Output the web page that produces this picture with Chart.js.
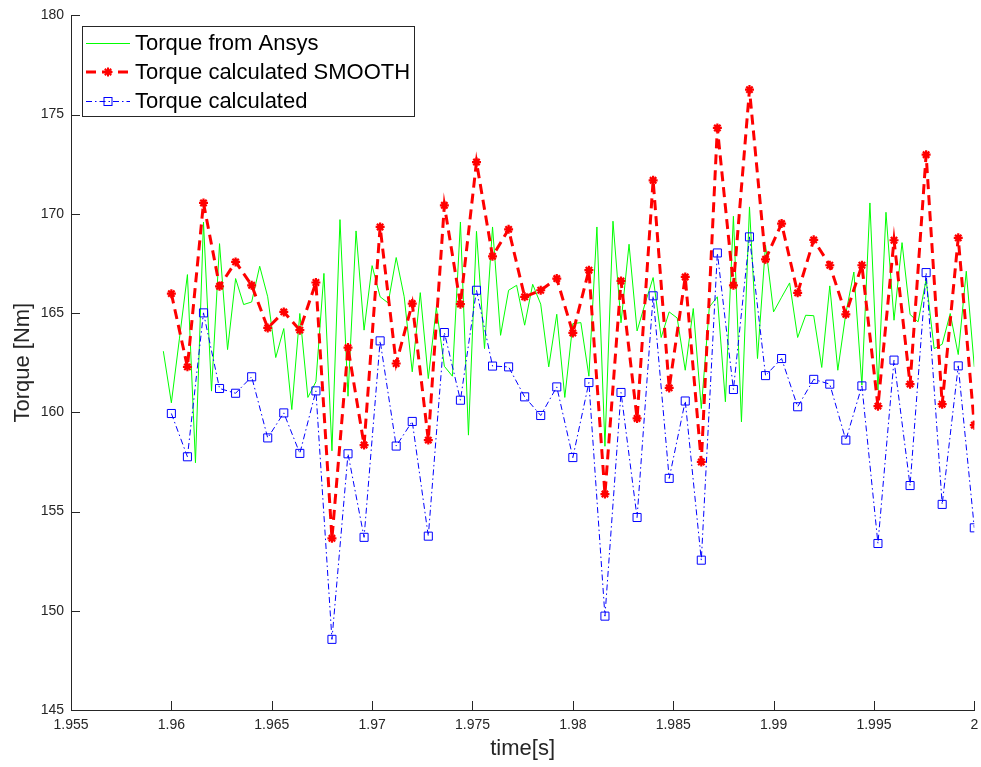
<!DOCTYPE html>
<html>
<head>
<meta charset="utf-8">
<script src="https://cdn.jsdelivr.net/npm/chart.js@4.4.1/dist/chart.umd.min.js"></script>
<style>
  html, body { margin: 0; padding: 0; background: #fff; }
  #wrap { width: 981px; height: 767px; }
</style>
</head>
<body>
<div id="wrap"><canvas id="torqueChart" width="981" height="767"></canvas></div>
<script>
// sampling of the two signals (Ansys is sampled twice as often)
const ansysStart = 1.9596, ansysStep = 0.0004;
const calcStart = 1.96, calcStep = 0.0008;

// Torque from Ansys [Nm]
const torqueAnsys = [
  163.08, 160.48, 163.7, 166.94, 157.46, 169.59, 161.07, 168.50, 163.16, 166.74,
  165.43, 165.56, 167.36, 165.82, 162.76, 164.22, 160.14, 164.98, 160.75, 161.54,
  167.00, 158.06, 169.71, 160.81, 169.14, 164.14, 167.39, 165.82, 165.51, 167.80,
  165.82, 162.04, 166.03, 161.70, 165.28, 162.32, 161.82, 169.59, 158.85, 169.12,
  163.21, 169.34, 163.88, 166.15, 166.40, 164.39, 166.45, 165.45, 162.29, 164.94,
  160.75, 164.47, 164.52, 161.82, 169.34, 158.29, 169.63, 164.51, 168.47, 164.10,
  165.48, 166.79, 163.77, 165.06, 164.75, 162.12, 165.23, 160.19, 165.31, 165.82,
  160.53, 169.88, 159.52, 170.35, 162.71, 168.42, 165.06, 165.8, 166.52, 163.77,
  164.89, 164.87, 162.26, 166.37, 162.12, 164.98, 167.07, 161.37, 170.55, 161.12,
  170.08, 164.64, 168.55, 164.93, 164.56, 166.69, 163.21, 163.43, 164.98, 162.91,
  167.11, 162.29
];

// Torque calculated SMOOTH [Nm]
const torqueSmooth = [
  165.98, 162.29, 170.55, 166.35, 167.58, 166.40, 164.25, 165.06, 164.14, 166.54,
  153.65, 163.26, 158.35, 169.34, 162.46, 165.48, 158.60, 170.43, 165.45, 172.61,
  167.86, 169.22, 165.82, 166.15, 166.74, 164.00, 167.16, 155.88, 166.62, 159.69,
  171.69, 161.23, 166.82, 157.50, 174.33, 166.40, 176.26, 167.71, 169.51, 166.02,
  168.69, 167.41, 164.94, 167.41, 160.31, 168.67, 161.42, 172.98, 160.41, 168.79,
  159.35
];

// Torque calculated [Nm]
const torqueCalc = [
  159.94, 157.76, 165.01, 161.20, 160.96, 161.79, 158.71, 159.97, 157.93, 161.08,
  148.56, 157.91, 153.70, 163.60, 158.30, 159.54, 153.76, 164.02, 160.61, 166.15,
  162.33, 162.29, 160.78, 159.84, 161.28, 157.72, 161.50, 149.73, 161.00, 154.70,
  165.87, 156.67, 160.57, 152.55, 168.03, 161.15, 168.84, 161.85, 162.71, 160.28,
  161.66, 161.42, 158.60, 161.33, 153.39, 162.63, 156.31, 167.04, 155.36, 162.34,
  154.18
];

const xTickValues = [1.955, 1.96, 1.965, 1.97, 1.975, 1.98, 1.985, 1.99, 1.995, 2];
const yTickValues = [145, 150, 155, 160, 165, 170, 175, 180];

const seriesNames = ['Torque from Ansys', 'Torque calculated SMOOTH', 'Torque calculated'];

const AXIS = '#262626';
const GREEN = '#00ff00', RED = '#ff0000', BLUE = '#0000ff';
const RED_DASH = [10, 6];
const BLUE_DASH = [6, 3, 1.5, 3];

const toPoints = (vals, t0, dt) => vals.map((v, i) => ({ x: t0 + i * dt, y: v }));

Chart.defaults.font.family = '"Liberation Sans", Arial, Helvetica, sans-serif';
Chart.defaults.color = AXIS;

// MATLAB style ticks pointing into the axes
const inwardTicks = {
  id: 'inwardTicks',
  beforeDatasetsDraw(chart) {
    const { ctx, chartArea: a, scales: { x, y } } = chart;
    ctx.save();
    ctx.strokeStyle = AXIS;
    ctx.lineWidth = 1;
    ctx.beginPath();
    x.ticks.forEach(t => {
      const px = Math.round(x.getPixelForValue(t.value)) + 0.5;
      ctx.moveTo(px, a.bottom);
      ctx.lineTo(px, a.bottom - 9);
    });
    y.ticks.forEach(t => {
      const py = Math.round(y.getPixelForValue(t.value)) + 0.5;
      ctx.moveTo(a.left, py);
      ctx.lineTo(a.left + 9, py);
    });
    ctx.stroke();
    ctx.restore();
  }
};

function drawStar(ctx, cx, cy, r) {
  ctx.beginPath();
  ctx.moveTo(cx - r, cy); ctx.lineTo(cx + r, cy);
  ctx.moveTo(cx, cy - r); ctx.lineTo(cx, cy + r);
  const d = r * Math.SQRT1_2;
  ctx.moveTo(cx - d, cy - d); ctx.lineTo(cx + d, cy + d);
  ctx.moveTo(cx - d, cy + d); ctx.lineTo(cx + d, cy - d);
  ctx.stroke();
}

// boxed legend in the upper left corner, like the MATLAB one
const boxLegend = {
  id: 'boxLegend',
  afterDatasetsDraw(chart) {
    const ctx = chart.ctx;
    const bx = 82, by = 26, bw = 332, bh = 90;
    const x1 = 86, x2 = 130, tx = 135;
    const rows = [43, 72, 101];
    ctx.save();
    ctx.fillStyle = '#fff';
    ctx.fillRect(bx, by, bw, bh);
    ctx.strokeStyle = AXIS;
    ctx.lineWidth = 1;
    ctx.strokeRect(bx + 0.5, by + 0.5, bw, bh);

    // green sample
    ctx.strokeStyle = GREEN;
    ctx.lineWidth = 1;
    ctx.beginPath(); ctx.moveTo(x1, rows[0] + 0.5); ctx.lineTo(x2, rows[0] + 0.5); ctx.stroke();

    // red sample
    ctx.strokeStyle = RED;
    ctx.lineWidth = 3;
    ctx.setLineDash(RED_DASH);
    ctx.beginPath(); ctx.moveTo(x1, rows[1]); ctx.lineTo(x2, rows[1]); ctx.stroke();
    ctx.setLineDash([]);
    ctx.lineWidth = 2;
    drawStar(ctx, (x1 + x2) / 2, rows[1], 4.5);

    // blue sample
    ctx.strokeStyle = BLUE;
    ctx.lineWidth = 1;
    ctx.setLineDash(BLUE_DASH);
    ctx.beginPath(); ctx.moveTo(x1, rows[2] + 0.5); ctx.lineTo(x2, rows[2] + 0.5); ctx.stroke();
    ctx.setLineDash([]);
    ctx.strokeRect((x1 + x2) / 2 - 4, rows[2] - 3.5, 8, 8);

    ctx.fillStyle = '#000';
    ctx.font = '22px "Liberation Sans", Arial, sans-serif';
    ctx.textBaseline = 'middle';
    ctx.textAlign = 'left';
    seriesNames.forEach((name, i) => ctx.fillText(name, tx, rows[i] + 1));
    ctx.restore();
  }
};

new Chart(document.getElementById('torqueChart'), {
  type: 'line',
  data: {
    datasets: [
      {
        label: seriesNames[0],
        data: toPoints(torqueAnsys, ansysStart, ansysStep),
        borderColor: GREEN,
        borderWidth: 1,
        pointRadius: 0,
        tension: 0,
        order: 3
      },
      {
        label: seriesNames[1],
        data: toPoints(torqueSmooth, calcStart, calcStep),
        borderColor: RED,
        borderWidth: 3,
        borderDash: RED_DASH,
        pointStyle: 'star',
        pointRadius: 4.5,
        pointBorderWidth: 2.2,
        pointBorderColor: RED,
        pointBackgroundColor: RED,
        tension: 0,
        order: 2
      },
      {
        label: seriesNames[2],
        data: toPoints(torqueCalc, calcStart, calcStep),
        borderColor: BLUE,
        borderWidth: 1,
        borderDash: BLUE_DASH,
        pointStyle: 'rect',
        pointRadius: 5.7,
        pointBorderWidth: 1,
        pointBorderColor: BLUE,
        pointBackgroundColor: 'rgba(0,0,0,0)',
        tension: 0,
        order: 1
      }
    ]
  },
  options: {
    responsive: false,
    animation: false,
    layout: { padding: { top: 15, right: 6, bottom: 0, left: 0 } },
    plugins: {
      legend: { display: false },
      tooltip: { enabled: false }
    },
    scales: {
      x: {
        type: 'linear',
        min: 1.955,
        max: 2,
        afterBuildTicks: s => { s.ticks = xTickValues.map(v => ({ value: v })); },
        afterFit: s => { s.height = 57; s.paddingLeft = 0; s.paddingRight = 0; },
        grid: { display: true, drawOnChartArea: false, drawTicks: false },
        border: { display: true, color: AXIS, width: 1 },
        ticks: {
          padding: 7,
          maxRotation: 0,
          autoSkip: false,
          font: { size: 14 },
          color: AXIS,
          callback: v => String(+v.toFixed(3))
        },
        title: {
          display: true,
          text: 'time[s]',
          font: { size: 22 },
          color: AXIS,
          padding: { top: 0, bottom: 5 }
        }
      },
      y: {
        min: 145,
        max: 180,
        afterBuildTicks: s => { s.ticks = yTickValues.map(v => ({ value: v })); },
        afterFit: s => { s.width = 71; },
        grid: { display: true, drawOnChartArea: false, drawTicks: false },
        border: { display: true, color: AXIS, width: 1 },
        ticks: {
          padding: 7,
          autoSkip: false,
          font: { size: 14 },
          color: AXIS
        },
        title: {
          display: true,
          text: 'Torque [Nm]',
          font: { size: 22 },
          color: AXIS,
          padding: { top: 10, bottom: 0 }
        }
      }
    }
  },
  plugins: [inwardTicks, boxLegend]
});
</script>
</body>
</html>
